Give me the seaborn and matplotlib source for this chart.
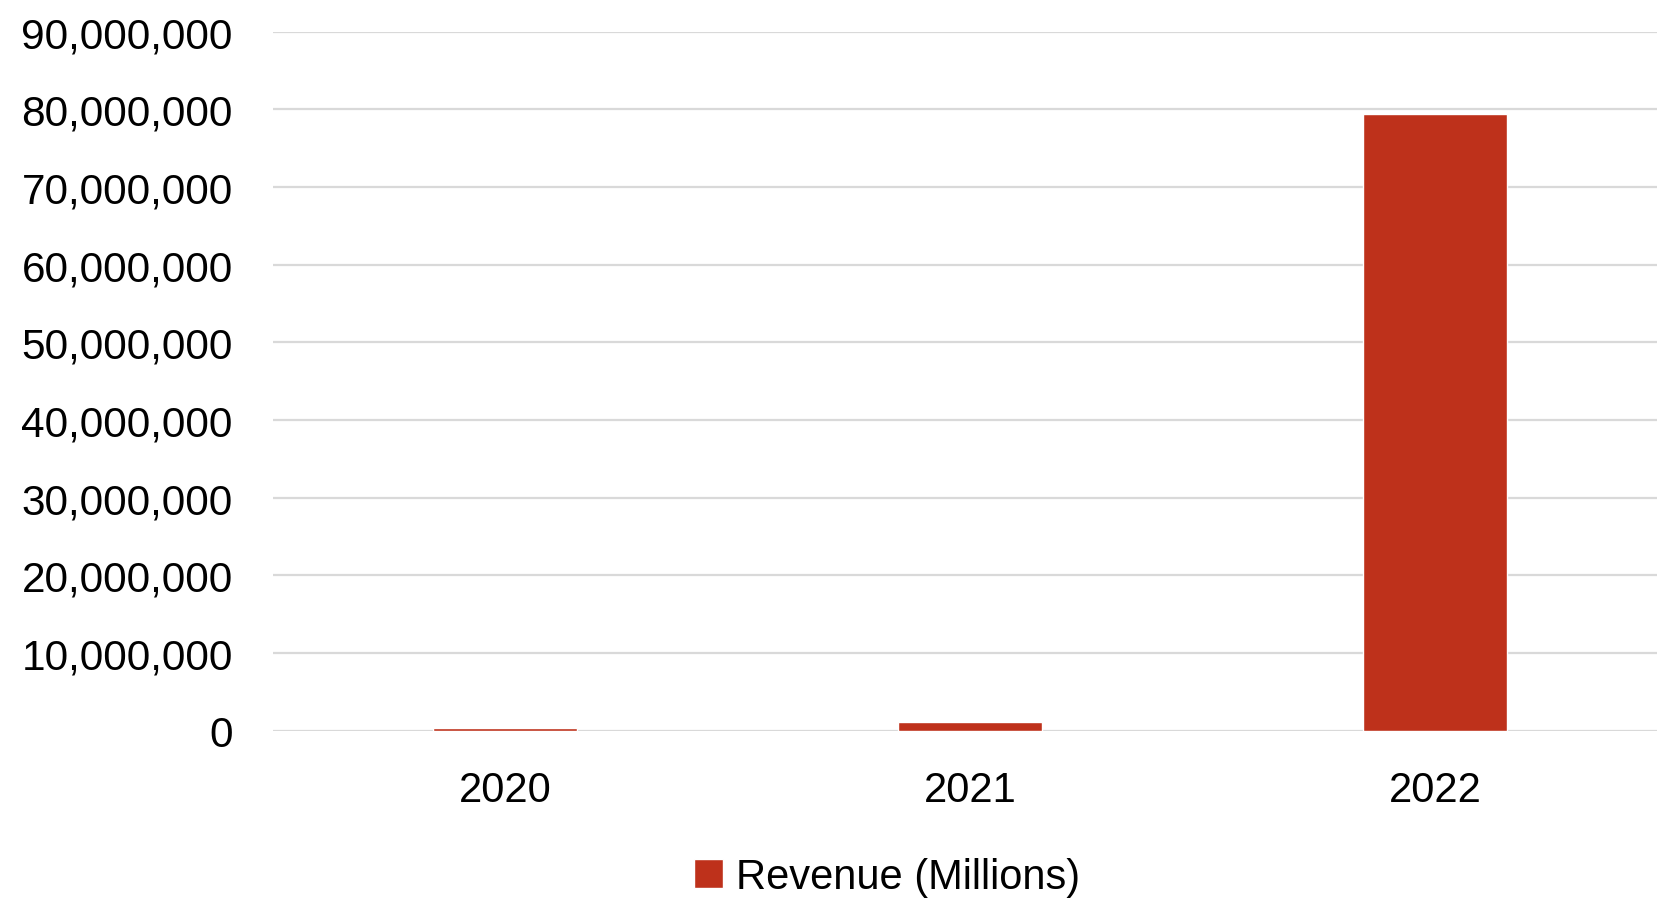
import matplotlib
matplotlib.use("Agg")
import matplotlib.pyplot as plt
import seaborn as sns
import pandas as pd
from matplotlib.ticker import FuncFormatter
from matplotlib.patches import Patch

years = ["2020", "2021", "2022"]
revenue = [300000, 1100000, 79400000]
series_name = "Revenue (Millions)"
bar_color = "#BE311B"

sns.set_theme(style="white")
plt.rcParams['font.family'] = ['Liberation Sans', 'DejaVu Sans']
plt.rcParams['text.color'] = 'black'
plt.rcParams['xtick.color'] = 'black'
plt.rcParams['ytick.color'] = 'black'

df = pd.DataFrame({"Year": years, "Revenue": revenue})

fig = plt.figure(figsize=(16.58, 9.03), dpi=100)
ax = fig.add_axes([0.1647, 0.1897, 0.8353, 0.774])
sns.barplot(data=df, x="Year", y="Revenue", color=bar_color, width=0.31,
            saturation=1, ax=ax, zorder=3)
ax.set_ylim(0, 90000000)
ax.set_xlim(-0.5, 2.48)
ax.set_yticks(range(0, 90000001, 10000000))
ax.yaxis.set_major_formatter(FuncFormatter(lambda v, p: f"{int(v):,}"))
ax.grid(axis="y", color="#d9d9d9", linewidth=1.6, zorder=0)
ax.set_axisbelow(True)
for s in ax.spines.values():
    s.set_visible(False)
ax.set_xlabel("")
ax.set_ylabel("")
ax.tick_params(axis="y", labelsize=30.5, pad=29, length=0, labelcolor="black")
ax.tick_params(axis="x", labelsize=30, pad=28, length=0, labelcolor="black")

handles = [Patch(facecolor=bar_color, label=series_name)]
fig.legend(handles=handles, loc="center", bbox_to_anchor=(0.535, 0.028),
           frameon=False, fontsize=30, handlelength=0.7, handleheight=0.7,
           handletextpad=0.3, labelcolor="black")

fig.savefig("out.png", dpi=100)
